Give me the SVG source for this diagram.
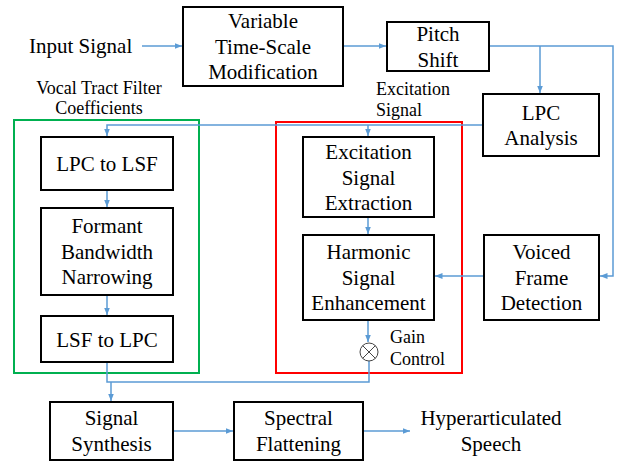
<svg xmlns="http://www.w3.org/2000/svg" width="620" height="461" viewBox="0 0 620 461" font-family="Liberation Serif, serif">
<defs>
<marker id="ah" viewBox="0 0 10 10" refX="10" refY="5" markerWidth="5" markerHeight="5" markerUnits="strokeWidth" orient="auto">
<path d="M0,1 L10,5 L0,9 z" fill="#5B9BD5"/>
</marker>
</defs>
<rect width="620" height="461" fill="#fff"/>
<g id="groups" fill="none" stroke-width="2">
<rect id="green" x="14" y="120" width="185" height="253" stroke="#00B050"/>
<rect id="red" x="276" y="122" width="186" height="251" stroke="#FF0000"/>
</g>
<g id="connectors" fill="none" stroke="#5B9BD5" stroke-width="1.5">
<path marker-end="url(#ah)" d="M142,46 H182"/>
<path marker-end="url(#ah)" d="M343,46 H386"/>
<path marker-end="url(#ah)" d="M489,46 H613 V276 H600"/>
<path marker-end="url(#ah)" d="M540,46 V93"/>
<path marker-end="url(#ah)" d="M483,125 H107 V136"/>
<path marker-end="url(#ah)" d="M368,125 V136"/>
<path marker-end="url(#ah)" d="M107,190 V207"/>
<path marker-end="url(#ah)" d="M107,295 V315"/>
<path marker-end="url(#ah)" d="M368,217 V234"/>
<path marker-end="url(#ah)" d="M484,276 H435"/>
<path marker-end="url(#ah)" d="M368,320 V342"/>
<path d="M107,362 V382 H369 V361"/>
<path marker-end="url(#ah)" d="M111,382 V401"/>
<path marker-end="url(#ah)" d="M173,431 H233"/>
<path marker-end="url(#ah)" d="M363,431 H410"/>
</g>
<g id="labels" font-size="18" fill="#000">
<g id="input"><text x="29" y="53" font-size="21">Input Signal</text></g>
<g id="vtfc" text-anchor="middle"><text x="99" y="94">Vocal Tract Filter</text><text x="99" y="114">Coefficients</text></g>
<g id="excit-label"><text x="376" y="95">Excitation</text><text x="376" y="116">Signal</text></g>
</g>
<g id="nodes" font-size="21" text-anchor="middle" fill="#000">
<g id="vtsm"><rect x="183" y="7" width="160" height="79" fill="#fff" stroke="#000" stroke-width="2"/><text x="263" y="28">Variable</text><text x="263" y="53.5">Time-Scale</text><text x="263" y="79">Modification</text></g>
<g id="pitch"><rect x="387" y="22" width="102" height="49" fill="#fff" stroke="#000" stroke-width="2"/><text x="438" y="41">Pitch</text><text x="438" y="66.5">Shift</text></g>
<g id="lpca"><rect x="483" y="94" width="116" height="62" fill="#fff" stroke="#000" stroke-width="2"/><text x="541" y="119.5">LPC</text><text x="541" y="145">Analysis</text></g>
<g id="lpc2lsf"><rect x="41" y="137" width="132" height="53" fill="#fff" stroke="#000" stroke-width="2"/><text x="107" y="171">LPC to LSF</text></g>
<g id="formant"><rect x="41" y="208" width="132" height="87" fill="#fff" stroke="#000" stroke-width="2"/><text x="107" y="233">Formant</text><text x="107" y="258.5">Bandwidth</text><text x="107" y="284">Narrowing</text></g>
<g id="lsf2lpc"><rect x="41" y="316" width="132" height="46" fill="#fff" stroke="#000" stroke-width="2"/><text x="107" y="346.5">LSF to LPC</text></g>
<g id="ese"><rect x="303" y="137" width="131" height="80" fill="#fff" stroke="#000" stroke-width="2"/><text x="368.5" y="159">Excitation</text><text x="368.5" y="184.5">Signal</text><text x="368.5" y="210">Extraction</text></g>
<g id="hse"><rect x="303" y="235" width="131" height="85" fill="#fff" stroke="#000" stroke-width="2"/><text x="368.5" y="259">Harmonic</text><text x="368.5" y="284.5">Signal</text><text x="368.5" y="310">Enhancement</text></g>
<g id="vfd"><rect x="484" y="235" width="115" height="85" fill="#fff" stroke="#000" stroke-width="2"/><text x="541.5" y="259">Voiced</text><text x="541.5" y="284.5">Frame</text><text x="541.5" y="310">Detection</text></g>
<g id="gain" text-anchor="start" font-size="18"><circle cx="369" cy="352" r="9" fill="#fff" stroke="#444" stroke-width="1"/><path d="M362.6,345.6 L375.4,358.4 M375.4,345.6 L362.6,358.4" stroke="#444" stroke-width="1"/><text x="390" y="343">Gain</text><text x="390" y="365">Control</text></g>
<g id="synth"><rect x="50" y="402" width="123" height="58" fill="#fff" stroke="#000" stroke-width="2"/><text x="111.5" y="425">Signal</text><text x="111.5" y="451">Synthesis</text></g>
<g id="flat"><rect x="234" y="402" width="129" height="58" fill="#fff" stroke="#000" stroke-width="2"/><text x="298.5" y="425">Spectral</text><text x="298.5" y="451">Flattening</text></g>
<g id="output"><text x="491" y="425">Hyperarticulated</text><text x="491" y="451">Speech</text></g>
</g>
</svg>
